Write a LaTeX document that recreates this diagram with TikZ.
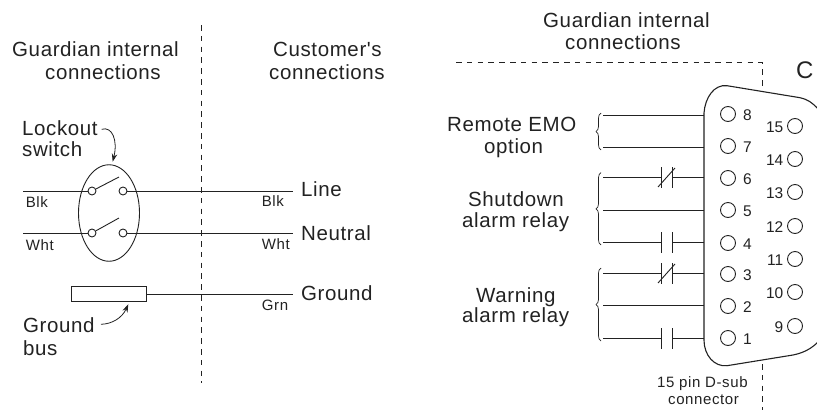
\documentclass[tikz,border=0pt]{standalone}
\usepackage{fontspec}
\setmainfont{Liberation Sans}
\newfontfamily\labfont[LetterSpace=3]{Liberation Sans}
\newfontfamily\smallfont[LetterSpace=4]{Liberation Sans}
\usetikzlibrary{arrows.meta,decorations.pathreplacing,shapes.geometric}
\definecolor{ink}{HTML}{222222}
\tikzset{
  lab/.style={inner sep=0pt,text=ink,anchor=base west,font=\labfont\fontsize{20.5}{24}\selectfont},
  small/.style={inner sep=0pt,text=ink,anchor=base west,font=\smallfont\fontsize{15}{18}\selectfont},
  pinnum/.style={inner sep=0pt,text=ink,font=\fontsize{15.5}{18}\selectfont},
  wire/.style={draw=ink,line width=0.9pt},
  dashline/.style={draw=ink,line width=0.9pt,dash pattern=on 5.6pt off 5.2pt},
  term/.style={circle,draw=ink,line width=0.9pt,minimum size=8pt,inner sep=0pt,fill=white},
  pinhole/.style={circle,draw=ink,line width=0.9pt,minimum size=15pt,inner sep=0pt},
  plate/.style={draw=ink,line width=0.9pt},
  bracex/.style={draw=ink,line width=0.7pt,decorate,decoration={brace,amplitude=5pt,mirror}},
  pointer/.style={draw=ink,line width=0.8pt,-{Stealth[length=8pt,width=5.5pt]}}
}
\begin{document}
\begin{tikzpicture}[x=1pt,y=-1pt]
\useasboundingbox (0,0) rectangle (817,410);
% ---------- left diagram
\coordinate (dtop) at (201,25); \coordinate (dbot) at (201,383);
\draw[dashline] (dtop) -- (dbot);
\node[lab] (gl) at (12,56) {Guardian internal};
\node[lab] (gl2) at (45,79) {connections};
\node[lab] (cl) at (273,56) {Customer's};
\node[lab] (cl2) at (269,79) {connections};
\node[lab] (lock) at (22,135.7) {Lockout};
\node[lab] (lock2) at (22,156.7) {switch};
\node[draw=ink,line width=0.9pt,ellipse,minimum width=61pt,minimum height=96.5pt,inner sep=0pt] (sw) at (109,213) {};
\coordinate (a1) at (23,191); \coordinate (a2) at (23,233);
\coordinate (b1) at (292.7,191); \coordinate (b2) at (292.7,233); \coordinate (b3) at (292.7,294);
\coordinate (arm1) at (119,177); \coordinate (arm2) at (119,218);
\node[term] (t1) at (92,191) {};
\node[term] (t2) at (123,191) {};
\node[term] (t3) at (92,233) {};
\node[term] (t4) at (123,233) {};
\draw[wire] (a1) -- (t1);
\draw[wire] (a2) -- (t3);
\draw[wire] (t2) -- (b1);
\draw[wire] (t4) -- (b2);
\draw[wire] (t1) -- (arm1);
\draw[wire] (t3) -- (arm2);
\node[small] (blk1) at (25.7,207.7) {Blk};
\node[small] (wht1) at (25.7,250) {Wht};
\node[small] (blk2) at (261.7,206) {Blk};
\node[small] (wht2) at (261.7,249) {Wht};
\node[small] (grn) at (261.7,310) {Grn};
\node[lab] (line) at (301,196.7) {Line};
\node[lab] (neut) at (301,240) {Neutral};
\node[lab] (gnd) at (301,300) {Ground};
\node[draw=ink,line width=1pt,minimum width=75pt,minimum height=15.5pt,inner sep=0pt] (bus) at (109,294) {};
\draw[wire] (bus.east) -- (b3);
\node[lab] (gb) at (23,332.7) {Ground};
\node[lab] (gb2) at (23,355) {bus};
\coordinate (lp) at (101.7,129.3);
\coordinate (lq) at (112.7,161.7);
\draw[pointer] (lp) .. controls (112,126) and (118,140) .. (lq);
\coordinate (gp) at (101,324.3);
\coordinate (gq) at (128.3,304.3);
\draw[pointer] (gp) .. controls (112,324) and (122,318) .. (gq);
% ---------- right diagram
\node[lab] (gr) at (543,27) {Guardian internal};
\node[lab] (gr2) at (565,49) {connections};
\coordinate (d1) at (456,62); \coordinate (d2) at (762,62); \coordinate (d3) at (762,92);
\coordinate (d4) at (762,364); \coordinate (d5) at (762,410);
\draw[dashline] (d1) -- (d2) -- (d3);
\draw[dashline] (d4) -- (d5);
\node[inner sep=0pt,text=ink,anchor=base west,font=\fontsize{24}{28}\selectfont] (c) at (796,78) {C};
\begin{scope}
\clip (690,70) rectangle (817,380);
\draw[draw=ink,line width=1.1pt] (704,340)
  .. controls (704,355) and (714,367) .. (727,365.7)
  -- (793,355) .. controls (803,353) and (811,349) .. (818,342);
\draw[draw=ink,line width=1.1pt] (704,340) -- (704,113)
  .. controls (705,98) and (714,84) .. (727,85.7)
  -- (800,97.7) .. controls (807,99) and (813,103) .. (818,109);
\end{scope}
\foreach \n/\y in {8/114,7/146,6/178,5/210,4/243,3/274,2/306,1/338}{
  \node[pinhole] (p\n) at (728,\y) {};
  \node[pinnum,anchor=west] (pl\n) at (743,\y+1) {\n};
}
\foreach \n/\y in {15/126,14/159,13/192,12/226,11/259,10/292,9/326}{
  \node[pinhole] (p\n) at (795,\y) {};
  \node[pinnum,anchor=east] (pl\n) at (783.5,\y+1) {\n};
}
\foreach \n/\y in {8/115,7/147,5/210,2/305}{
  \coordinate (wl\n) at (603,\y);
  \coordinate (wr\n) at (704,\y);
  \draw[wire] (wl\n) -- (wr\n);
}
% contacts
\foreach \n/\y in {6/177,3/273,4/242,1/338}{
  \coordinate (wl\n) at (603,\y);
  \coordinate (wr\n) at (704,\y);
  \coordinate (ca\n) at (661,\y);
  \coordinate (cb\n) at (672,\y);
  \draw[wire] (wl\n) -- (ca\n);
  \draw[wire] (cb\n) -- (wr\n);
  \draw[plate] ([yshift=-10.5pt]ca\n) -- ([yshift=10.5pt]ca\n);
  \draw[plate] ([yshift=-10.5pt]cb\n) -- ([yshift=10.5pt]cb\n);
}
\foreach \n in {6,3}{
  \draw[plate] ([xshift=-3pt,yshift=-10pt]ca\n) -- ([xshift=3pt,yshift=9pt]cb\n);
}
% braces
\coordinate (br1a) at (601,113); \coordinate (br1b) at (601,150);
\coordinate (br2a) at (601,172.7); \coordinate (br2b) at (601,245);
\coordinate (br3a) at (601,268); \coordinate (br3b) at (601,341);
\draw[bracex] (br1a) -- (br1b);
\draw[bracex] (br2a) -- (br2b);
\draw[bracex] (br3a) -- (br3b);
\node[lab] (emo) at (447,131) {Remote EMO};
\node[lab] (emo2) at (484,153) {option};
\node[lab] (sd) at (468,206) {Shutdown};
\node[lab] (sd2) at (462,227) {alarm relay};
\node[lab] (wrl) at (476,302) {Warning};
\node[lab] (wrl2) at (462,322) {alarm relay};
\node[small] (dsub) at (657,387) {15 pin D-sub};
\node[small] (dsub2) at (668,404) {connector};
\end{tikzpicture}
\end{document}
